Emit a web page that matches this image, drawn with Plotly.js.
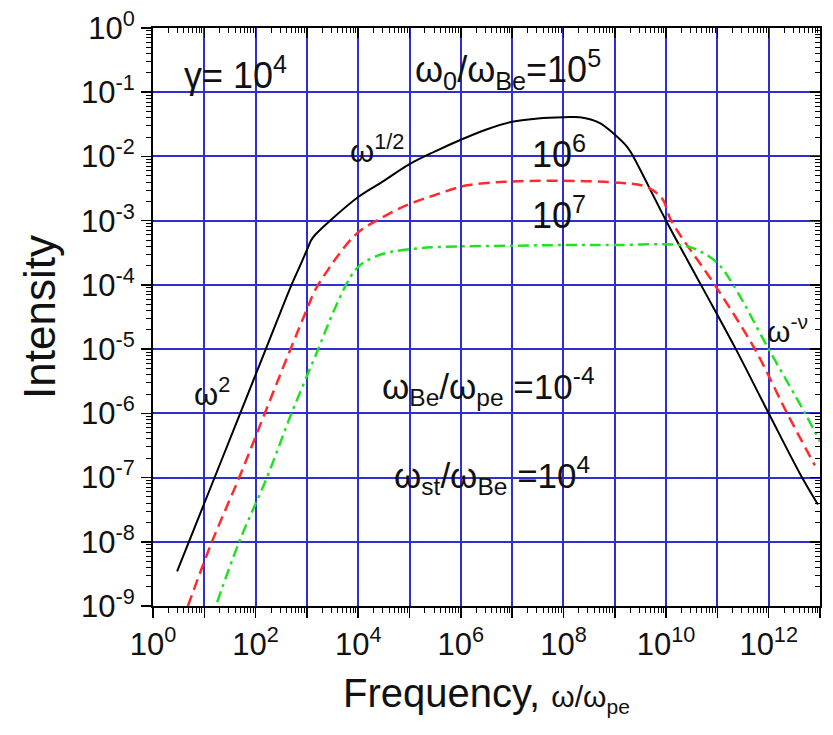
<!DOCTYPE html>
<html>
<head>
<meta charset="utf-8">
<script src="https://cdn.plot.ly/plotly-3.0.1.min.js"></script>
<style>html,body{margin:0;padding:0;background:#fff;}#chart{width:833px;height:735px;}</style>
</head>
<body>
<div id="chart"></div>
<script>
// ---- data ----
// omega0/omegaBe = 1e5 (black solid)
var freqA = [2.95, 10, 47.9, 166, 501, 759, 1e3, 1.2e3, 1.45e3, 2.82e3, 1e4, 3.16e4, 1e5, 3.16e5, 1e6, 3.16e6, 1e7, 3.16e7, 1e8, 2.09e8, 5.13e8, 9.33e8, 1.74e9, 2.29e9, 1e10, 4.79e10, 2.29e11, 1e12, 4.47e12, 9.12e12];
var intA  = [3.47e-9, 3.98e-8, 9.12e-7, 1.10e-5, 1e-4, 2.1e-4, 3.5e-4, 4.9e-4, 6.03e-4, 1e-3, 2.34e-3, 4.17e-3, 7.59e-3, 1.20e-2, 1.82e-2, 2.63e-2, 3.47e-2, 3.89e-2, 4.07e-2, 4.07e-2, 3.31e-2, 2.29e-2, 1.41e-2, 1e-2, 1e-3, 1e-4, 1e-5, 1e-6, 1e-7, 3.8e-8];
// omega0/omegaBe = 1e6 (red dashed)
var freqB = [4.79, 14.1, 47.9, 151, 479, 1e3, 1.45e3, 2.82e3, 3.98e3, 7.41e3, 1.26e4, 2.29e4, 5.01e4, 1.17e5, 3.16e5, 1.32e6, 1e7, 1e8, 1.26e9, 3.98e9, 8.32e9, 1.26e10, 8.91e10, 5.37e11, 2.29e12, 7.94e12];
var intB  = [1e-9, 1e-8, 1e-7, 1e-6, 1e-5, 4.17e-5, 8.32e-5, 1.91e-4, 2.82e-4, 5.25e-4, 7.59e-4, 1e-3, 1.41e-3, 1.91e-3, 2.51e-3, 3.55e-3, 4.07e-3, 4.17e-3, 3.89e-3, 3.39e-3, 2.24e-3, 1e-3, 1e-4, 1e-5, 1e-6, 1.55e-7];
// omega0/omegaBe = 1e7 (green dash-dot)
var freqC = [17.8, 47.9, 166, 501, 1.66e3, 3.16e3, 6.03e3, 8.51e3, 1.23e4, 2e4, 4.17e4, 1.58e5, 1e6, 1e7, 1e8, 1e9, 1.86e10, 4.17e10, 1e11, 2.04e11, 1e12, 5.13e12, 1e13];
var intC  = [1.15e-9, 1e-8, 1e-7, 1e-6, 1e-5, 3.55e-5, 1.07e-4, 1.66e-4, 2.19e-4, 2.69e-4, 3.24e-4, 3.72e-4, 3.98e-4, 4.07e-4, 4.17e-4, 4.17e-4, 4.17e-4, 3.47e-4, 2.19e-4, 1e-4, 1e-5, 1e-6, 3.63e-7];

var xExponents = [0,1,2,3,4,5,6,7,8,9,10,11,12,13];
var xLabelled  = [0,2,4,6,8,10,12];
var yExponents = [0,-1,-2,-3,-4,-5,-6,-7,-8,-9];

// ---- tick construction ----
function decadeVals(exps){ return exps.map(function(e){ return Math.pow(10, e); }); }
function minorVals(lo, hi){
  var v = [];
  for (var d = lo; d < hi; d++) for (var k = 2; k <= 9; k++) v.push(k * Math.pow(10, d));
  return v;
}
var xTickVals = decadeVals(xExponents);
var xTickText = xExponents.map(function(e){ return xLabelled.indexOf(e) >= 0 ? '10<sup>' + e + '</sup>' : ' '; });
var yTickVals = decadeVals(yExponents);
var yTickText = yExponents.map(function(e){ return '10<sup>' + e + '</sup>'; });
var xMinor = minorVals(0, 13);
var yMinor = minorVals(-9, 0);

var FONT = 'Arial, "Liberation Sans", sans-serif';
var GRID = '#2e2ed2';

var traces = [
  {x: freqA, y: intA, type: 'scatter', mode: 'lines', line: {color: '#000000', width: 2, shape: 'spline', smoothing: 1}, hoverinfo: 'skip'},
  {x: freqB, y: intB, type: 'scatter', mode: 'lines', line: {color: '#ff2a2a', width: 2.5, dash: '11px,6px', shape: 'spline', smoothing: 1}, hoverinfo: 'skip'},
  {x: freqC, y: intC, type: 'scatter', mode: 'lines', line: {color: '#22e022', width: 2.5, dash: '11px,5px,3px,5px', shape: 'spline', smoothing: 1}, hoverinfo: 'skip'},
  {x: [], y: [], xaxis: 'x2', yaxis: 'y2', type: 'scatter', mode: 'lines', hoverinfo: 'skip'}
];

function ann(text, x, y, size){
  return {text: text, x: x, y: y, xref: 'paper', yref: 'paper', xanchor: 'left', yanchor: 'middle',
          showarrow: false, font: {family: FONT, size: size, color: '#111'}};
}

var layout = {
  width: 833, height: 735,
  margin: {l: 153, r: 13, t: 28, b: 129},
  paper_bgcolor: '#ffffff', plot_bgcolor: '#ffffff',
  showlegend: false,
  font: {family: FONT, color: '#111'},
  xaxis: {
    type: 'log', range: [0, 13], tickmode: 'array', tickvals: xTickVals, ticktext: xTickText,
    ticks: 'outside', ticklen: 10, tickwidth: 1.5, tickcolor: '#000',
    showgrid: true, gridcolor: GRID, gridwidth: 2,
    showline: true, linecolor: '#000', linewidth: 2, mirror: true, zeroline: false,
    tickfont: {family: FONT, size: 31, color: '#111'},
    minor: {tickmode: 'array', tickvals: xMinor, ticks: 'outside', ticklen: 5, tickwidth: 1, tickcolor: '#000', showgrid: false},
    title: {text: 'Frequency, <span style="font-size:30px">ω/ω<sub>pe</sub></span>', font: {family: FONT, size: 40, color: '#111'}, standoff: 18}
  },
  yaxis: {
    type: 'log', range: [-9, 0], tickmode: 'array', tickvals: yTickVals, ticktext: yTickText,
    ticks: 'outside', ticklen: 10, tickwidth: 1.5, tickcolor: '#000',
    showgrid: true, gridcolor: GRID, gridwidth: 2,
    showline: true, linecolor: '#000', linewidth: 2, mirror: true, zeroline: false,
    tickfont: {family: FONT, size: 31, color: '#111'},
    minor: {tickmode: 'array', tickvals: yMinor, ticks: 'outside', ticklen: 5, tickwidth: 1, tickcolor: '#000', showgrid: false},
    title: {text: 'Intensity', font: {family: FONT, size: 44, color: '#111'}, standoff: 12}
  },
  xaxis2: {
    type: 'log', range: [0, 13], overlaying: 'x', side: 'top', anchor: 'y2',
    tickmode: 'array', tickvals: xTickVals, ticks: 'inside', ticklen: 10, tickwidth: 1.5, tickcolor: '#000',
    showticklabels: false, showgrid: false, showline: false, zeroline: false,
    minor: {tickmode: 'array', tickvals: xMinor, ticks: 'inside', ticklen: 5, tickwidth: 1, tickcolor: '#000', showgrid: false}
  },
  yaxis2: {
    type: 'log', range: [-9, 0], overlaying: 'y', side: 'right', anchor: 'x2',
    tickmode: 'array', tickvals: yTickVals, ticks: 'inside', ticklen: 10, tickwidth: 1.5, tickcolor: '#000',
    showticklabels: false, showgrid: false, showline: false, zeroline: false,
    minor: {tickmode: 'array', tickvals: yMinor, ticks: 'inside', ticklen: 5, tickwidth: 1, tickcolor: '#000', showgrid: false}
  },
  annotations: [
    ann('γ= 10<sup>4</sup>', 0.0435, 0.922, 36),
    ann('ω<sub>0</sub>/ω<sub>Be</sub>=10<sup>5</sup>', 0.39, 0.928, 36),
    ann('ω<sup>1/2</sup>', 0.292, 0.79, 31),
    ann('10<sup>6</sup>', 0.565, 0.785, 36),
    ann('10<sup>7</sup>', 0.565, 0.68, 36),
    ann('ω<sup>-ν</sup>', 0.917, 0.48, 30),
    ann('ω<sup>2</sup>', 0.058, 0.37, 31),
    ann('ω<sub>Be</sub>/ω<sub>pe</sub> =10<sup>-4</sup>', 0.34, 0.38, 35),
    ann('ω<sub>st</sub>/ω<sub>Be</sub> =10<sup>4</sup>', 0.358, 0.225, 35)
  ]
};

Plotly.newPlot('chart', traces, layout, {displayModeBar: false, staticPlot: true});
</script>
</body>
</html>
